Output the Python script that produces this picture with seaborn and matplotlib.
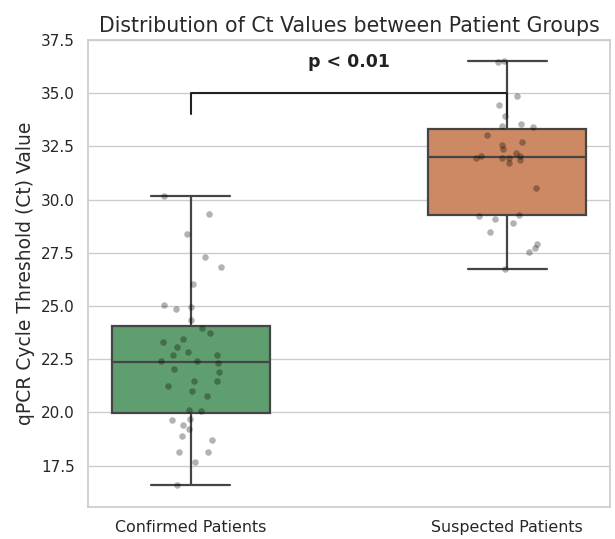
import numpy as np
import pandas as pd
import matplotlib
matplotlib.use("Agg")
import matplotlib.pyplot as plt
import seaborn as sns

groups = ["Confirmed Patients", "Suspected Patients"]
confirmed_ct = [30.17, 29.31, 28.37, 27.32, 26.85, 26.05, 24.97, 25.03, 24.86, 24.32,
                23.96, 23.74, 23.44, 23.32, 23.07, 22.71, 22.72, 22.83, 22.30, 22.44,
                22.41, 21.92, 22.02, 21.50, 21.48, 21.23, 21.00, 20.76, 20.06, 20.10,
                19.66, 19.70, 19.43, 19.23, 18.88, 18.69, 18.13, 18.16, 17.67, 16.59]
suspected_ct = [36.53, 36.45, 34.88, 34.46, 33.91, 33.55, 33.44, 33.41, 33.04, 32.69,
                32.54, 32.39, 32.18, 31.95, 31.95, 31.95, 32.06, 32.06, 31.74, 31.87,
                30.54, 29.28, 29.25, 29.11, 28.92, 28.48, 27.90, 27.74, 27.54, 26.72]
box_colors = ["#55A868", "#DD8452"]
bracket_low, bracket_high = 34.0, 35.0
p_label = "p < 0.01"

df = pd.DataFrame({
    "Group": [groups[0]] * len(confirmed_ct) + [groups[1]] * len(suspected_ct),
    "Ct": confirmed_ct + suspected_ct,
})

sns.set_theme(style="whitegrid")
fig, ax = plt.subplots(figsize=(6.15, 5.39), dpi=100)
fig.subplots_adjust(left=0.143, right=0.992, top=0.926, bottom=0.059)

sns.boxplot(data=df, x="Group", y="Ct", hue="Group", palette=box_colors,
            order=groups, width=0.5, legend=False, ax=ax, showfliers=False,
            linewidth=1.6, linecolor="#454545")
np.random.seed(7)
sns.stripplot(data=df, x="Group", y="Ct", order=groups, color="black",
              alpha=0.3, size=4.7, ax=ax)

ax.plot([0, 0, 1, 1], [bracket_low, bracket_high, bracket_high, bracket_low],
        color="#222222", lw=1.5)
ax.text(0.5, bracket_high + 1.45, p_label, ha="center", va="center",
        fontsize=12.5, fontweight="bold", color="#222222")

ax.set_title("Distribution of Ct Values between Patient Groups", fontsize=14.8,
             color="#2a2a2a")
ax.set_xlabel("")
ax.set_ylabel("qPCR Cycle Threshold (Ct) Value", fontsize=13.5, color="#2a2a2a")
ax.tick_params(axis="x", labelsize=11.4)
ax.tick_params(axis="y", labelsize=11)
ax.set_ylim(15.55, 37.5)

fig.savefig("out.png", dpi=100)
